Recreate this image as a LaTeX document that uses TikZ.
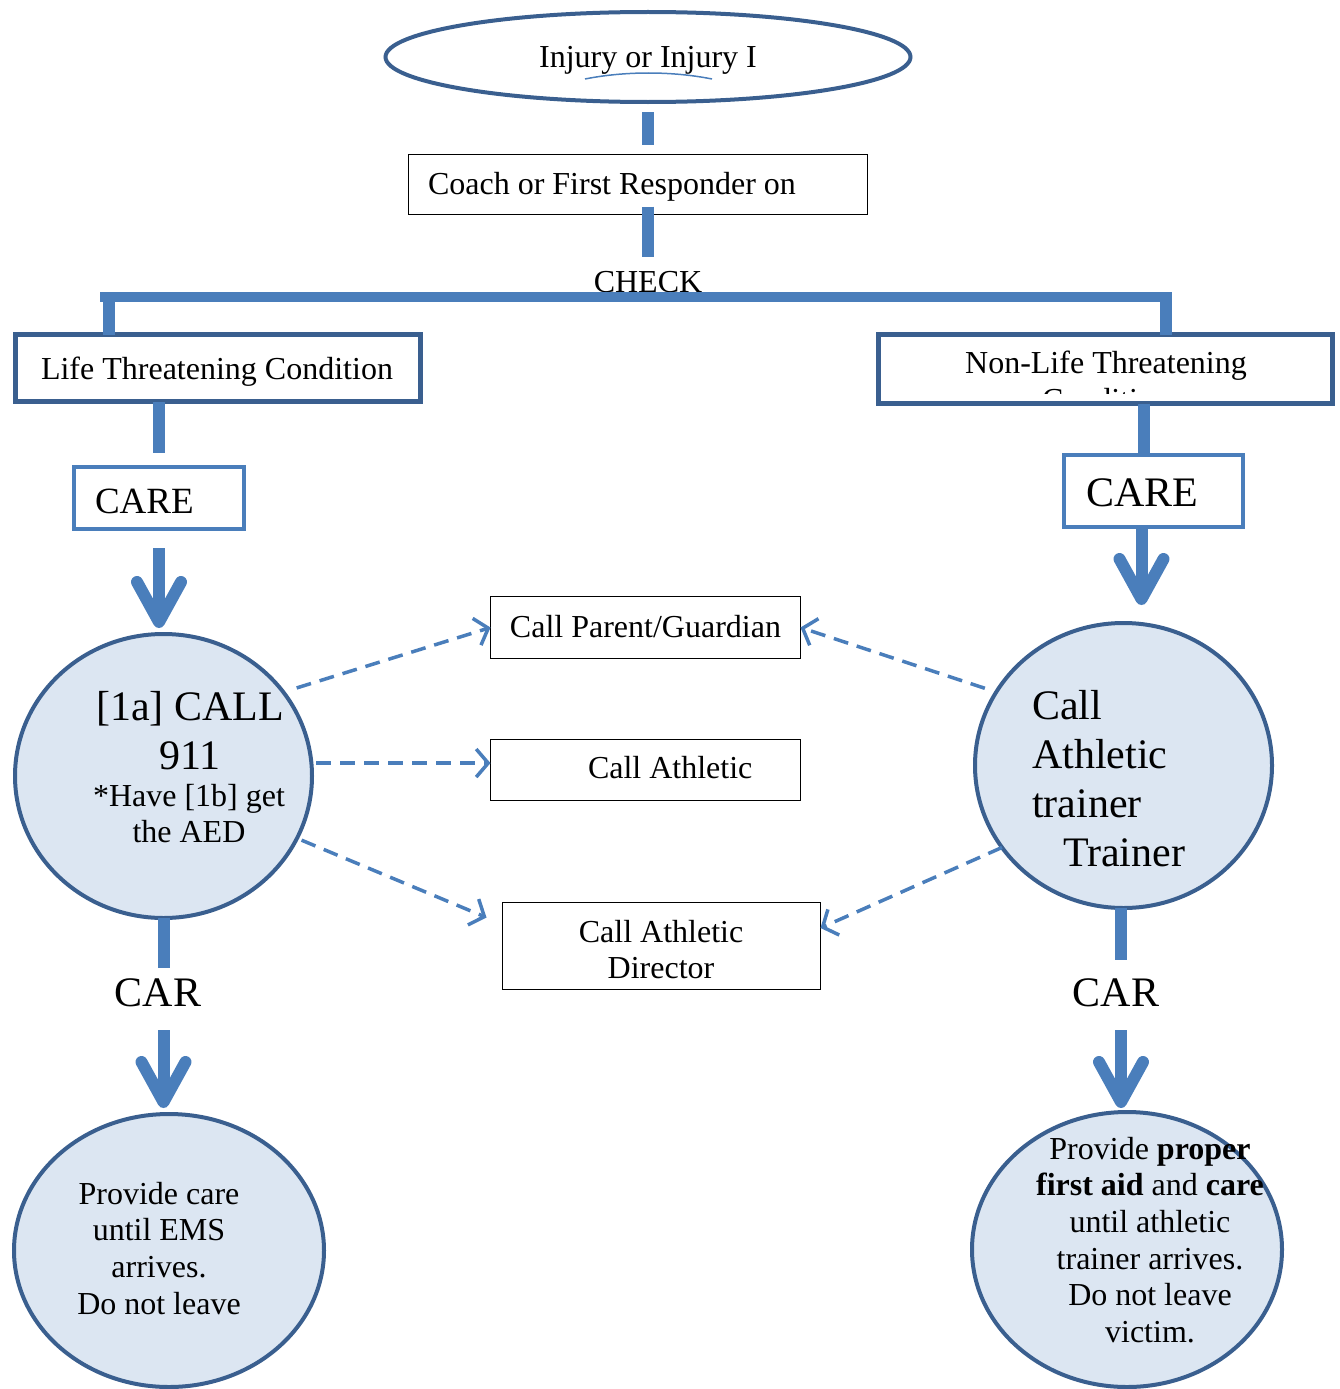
\documentclass[tikz,border=0pt]{standalone}
\usepackage{fontspec}
\setmainfont{Liberation Serif}
\usetikzlibrary{arrows.meta,shapes.geometric}
\definecolor{barblue}{HTML}{4A7EBB}
\definecolor{darkblue}{HTML}{3A5F8F}
\definecolor{fillblue}{HTML}{DCE6F2}
\begin{document}
\begin{tikzpicture}[x=1pt,y=-1pt,
  every node/.style={inner sep=0pt, outer sep=0pt},
  fs32/.style={font=\fontsize{32}{36.6}\selectfont},
  fs37/.style={font=\fontsize{37}{43}\selectfont},
  fs42/.style={font=\fontsize{42}{49}\selectfont},
  thinbox/.style={draw=black, line width=1.3pt},
  darkbox/.style={draw=darkblue, line width=5pt},
  carebox/.style={draw=barblue, line width=4pt},
  oval/.style={ellipse, draw=darkblue, line width=4pt},
  bubble/.style={ellipse, draw=darkblue, line width=4pt, fill=fillblue},
  bar/.style={draw=barblue, line width=12pt},
  bigarrow/.style={bar, -{Straight Barb[length=40pt,width=44pt,round]}},
  dasharrow/.style={draw=barblue, line width=3.5pt, dash pattern=on 15pt off 9pt, -{Straight Barb[length=12pt,width=28pt]}},
]
\useasboundingbox (0,0) rectangle (1339,1389);

% top
\node[oval, minimum width=525, minimum height=90] (inj) at (648,57) {};
\node[fs32, anchor=base] (injtext) at (648,67) {Injury or Injury I};
\draw[barblue, line width=1.5pt] (585,79) .. controls (625,71) and (672,71) .. (712,79);

\node[thinbox, minimum width=459, minimum height=60] (coach) at (638,184.5) {};
\node[fs32, anchor=base west] (coachtext) at (428,194) {Coach or First Responder on};

\node[fs32, anchor=base] (check) at (648,292) {CHECK};

\draw[bar, shorten <=10pt, shorten >=10pt] (inj.south) -- (inj.south |- coach.north);
\draw[bar, shorten <=-8pt, shorten >=14pt] (inj.south |- coach.south) -- (inj.south |- check.north);

% branch boxes
\node[darkbox, minimum width=405, minimum height=67] (life) at (218,368) {};
\node[fs32, anchor=base] (lifetext) at (217,379) {Life Threatening Condition};

\node[darkbox, minimum width=454, minimum height=69] (nonlife) at (1105.5,369) {};
\node[fs32, anchor=base] (nltext) at (1106,373) {Non-Life Threatening};
\begin{scope}
  \clip (880,340) rectangle (1330,393);
  \node[fs32, anchor=base] (nlclip) at (1106,410) {Condition};
\end{scope}

\coordinate (hl) at (100,297);
\coordinate (hr) at (1160,297);
\coordinate (jl) at (109,292);
\coordinate (jr) at (1166,292);
\draw[barblue, line width=10pt] (hl) -- (hr);
\draw[bar] (jl) -- (jl |- life.north);
\draw[bar] (jr) -- (jr |- nonlife.north);

% CARE boxes
\node[carebox, minimum width=170, minimum height=62] (careL) at (159,498) {};
\node[fs37, anchor=base west] (careLtext) at (95,513) {CARE};
\node[carebox, minimum width=179, minimum height=72] (careR) at (1153.5,491) {};
\node[fs42, anchor=base west] (careRtext) at (1086,506) {CARE};

\draw[bar, shorten >=14pt] (careL.north |- life.south) -- (careL.north);
\draw[bar, shorten >=2pt] ([xshift=-10pt]careR.north |- nonlife.south) -- ([xshift=-10pt]careR.north);

% circles
\node[bubble, minimum width=297, minimum height=284] (circL) at (163.5,776) {};
\node[fs42, align=center, anchor=north] (call911) at (190,691) {[1a] CALL\\911};
\node[fs32, align=center, anchor=north] (aed) at (189,784) {*Have [1b] get\\the AED};

\node[bubble, minimum width=297, minimum height=285] (circR) at (1123.5,765.5) {};
\node[fs42, align=left, anchor=north west] (atcall) at (1032,690) {Call\\Athletic\\trainer\\\hspace*{31pt}Trainer};

\draw[bigarrow, shorten <=19pt, shorten >=6pt] (careL.south) -- (careL.south |- circL.north);
\draw[bigarrow, shorten <=-2pt, shorten >=18pt] ([xshift=-12pt]careR.south) -- ([xshift=-12pt]careR.south |- circR.north);

% middle boxes
\node[thinbox, minimum width=310, minimum height=62] (parent) at (645.5,627.5) {};
\node[fs32, anchor=base] (parenttext) at (645.5,637) {Call Parent/Guardian};
\node[thinbox, minimum width=310, minimum height=61] (athl) at (645.5,770) {};
\node[fs32, anchor=base west] (athltext) at (588,778) {Call Athletic};
\node[thinbox, minimum width=318, minimum height=87] (ad) at (661.5,946) {};
\node[fs32, align=center, anchor=north] (adtext) at (661,920) {Call Athletic\\Director};

\draw[dasharrow, shorten <=14pt] (circL.35) -- (parent.west);
\draw[dasharrow, shorten <=5pt] (circL.5) -- (circL.5 -| athl.west);
\draw[dasharrow, shorten <=5pt] (circL.-25) -- ([xshift=-16pt,yshift=-15pt]ad.north west);
\draw[dasharrow, shorten <=12pt] (circR.150) -- (parent.east);
\draw[dasharrow] (circR.214) -- ([yshift=18pt]ad.east);

% lower part
\node[fs42, anchor=base] (carL) at (158,1006) {CAR};
\node[fs42, anchor=base] (carR) at (1116,1006) {CAR};

\node[bubble, minimum width=310, minimum height=273] (provL) at (169,1250.5) {};
\node[fs32, align=center, anchor=north] (provLtext) at (159,1182) {Provide care\\until EMS\\arrives.\\Do not leave};
\node[bubble, minimum width=310, minimum height=275] (provR) at (1127,1249.5) {};
\node[fs32, align=center, anchor=north] (provRtext) at (1150,1137) {Provide \textbf{proper}\\\textbf{first aid} and \textbf{care}\\until athletic\\trainer arrives.\\Do not leave\\victim.};

\draw[bar, shorten >=10pt] (circL.south) -- (circL.south |- carL.north);
\draw[bar, shorten >=18pt] ([xshift=-2.5pt]circR.south) -- ([xshift=-2.5pt]circR.south |- carR.north);
\draw[bigarrow, shorten <=24pt, shorten >=6pt] (circL.south |- carL.south) -- (circL.south |- provL.north);
\draw[bigarrow, shorten <=24pt, shorten >=4pt] ([xshift=-2.5pt]circR.south |- carR.south) -- ([xshift=-2.5pt]circR.south |- provR.north);
\end{tikzpicture}
\end{document}
